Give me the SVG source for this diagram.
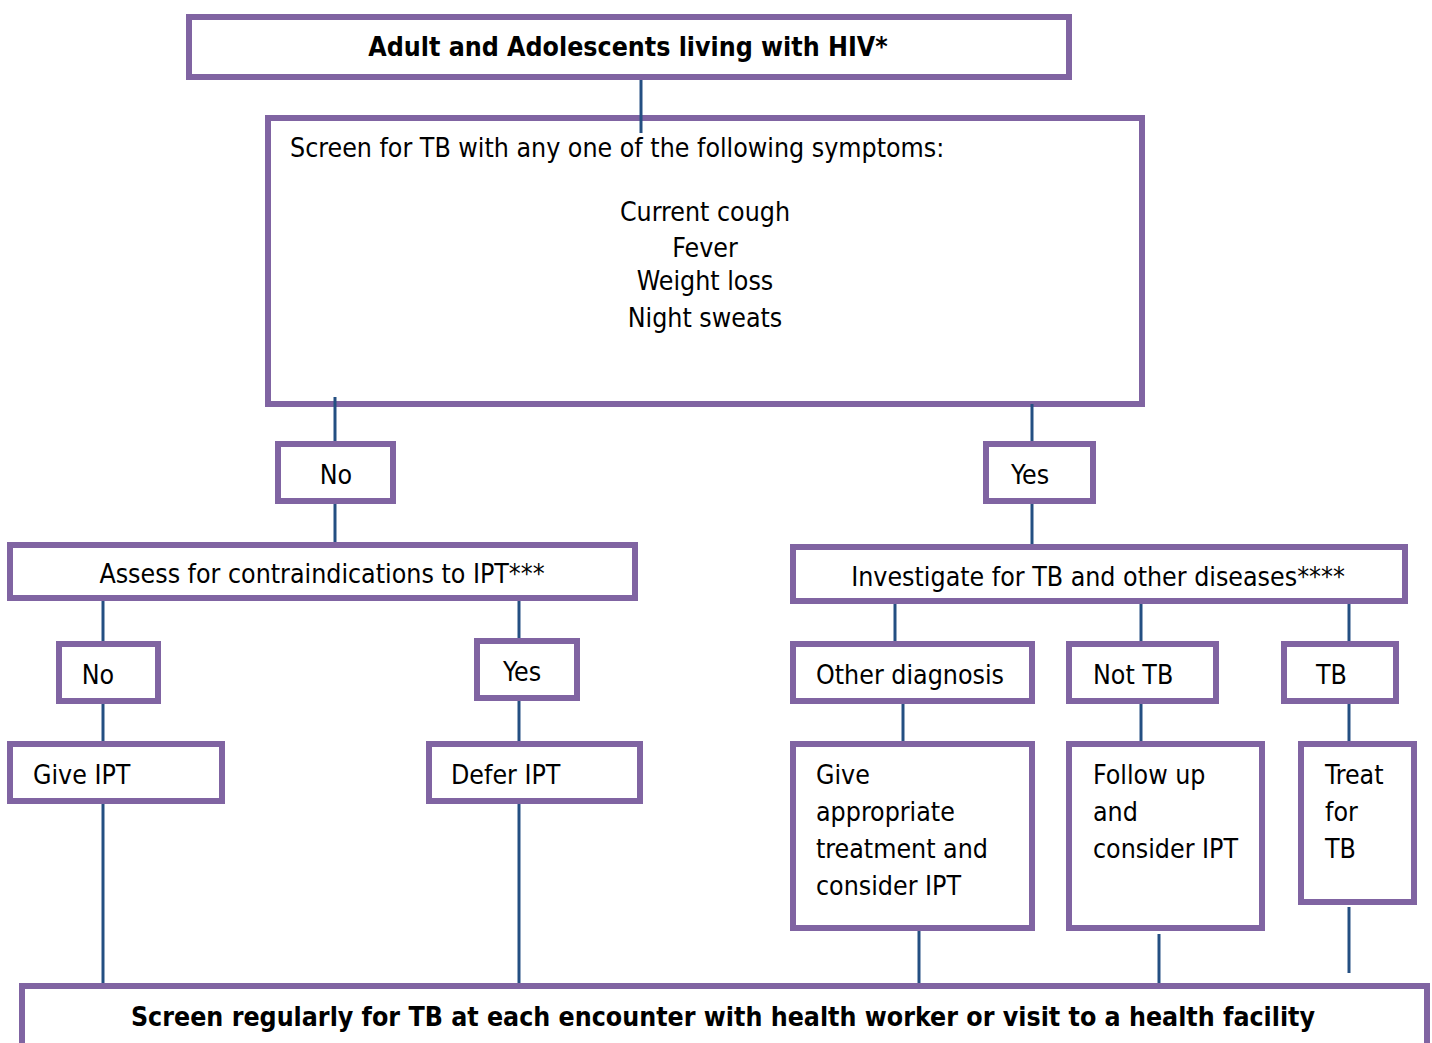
<svg xmlns="http://www.w3.org/2000/svg" width="1432" height="1043" viewBox="0 0 1432 1043">
  <style>
    .box { fill: #ffffff; stroke: #8064a2; stroke-width: 6; }
    .link { stroke: #244f82; stroke-width: 3; fill: none; }
    text { font-family: "DejaVu Sans Condensed", "DejaVu Sans", Verdana, sans-serif; font-stretch: condensed; font-size: 26.5px; fill: #000000; }
    .b { font-weight: bold; }
    .c { text-anchor: middle; }
  </style>
  <rect width="1432" height="1043" fill="#ffffff"/>

  <g id="nodes">
    <g id="n-top">
      <rect class="box" x="189" y="17" width="880" height="60"/>
      <text class="b c" x="628" y="56">Adult and Adolescents living with HIV*</text>
    </g>
    <g id="n-screen">
      <rect class="box" x="268" y="118" width="874" height="286"/>
      <text x="290" y="157">Screen for TB with any one of the following symptoms:</text>
      <text class="c" x="705" y="221">Current cough</text>
      <text class="c" x="705" y="257">Fever</text>
      <text class="c" x="705" y="290">Weight loss</text>
      <text class="c" x="705" y="327">Night sweats</text>
    </g>
    <g id="n-no">
      <rect class="box" x="278" y="444" width="115" height="57"/>
      <text class="c" x="336" y="484">No</text>
    </g>
    <g id="n-yes">
      <rect class="box" x="986" y="444" width="107" height="57"/>
      <text class="c" x="1030" y="484">Yes</text>
    </g>
    <g id="n-assess">
      <rect class="box" x="10" y="545" width="625" height="53"/>
      <text class="c" x="322" y="583">Assess for contraindications to IPT***</text>
    </g>
    <g id="n-investigate">
      <rect class="box" x="793" y="547" width="612" height="54"/>
      <text class="c" x="1098" y="586">Investigate for TB and other diseases****</text>
    </g>
    <g id="n-no2">
      <rect class="box" x="59" y="644" width="99" height="57"/>
      <text class="c" x="98" y="684">No</text>
    </g>
    <g id="n-yes2">
      <rect class="box" x="477" y="641" width="100" height="57"/>
      <text class="c" x="522" y="681">Yes</text>
    </g>
    <g id="n-give-ipt">
      <rect class="box" x="10" y="744" width="212" height="57"/>
      <text x="33" y="784">Give IPT</text>
    </g>
    <g id="n-defer-ipt">
      <rect class="box" x="429" y="744" width="211" height="57"/>
      <text x="451" y="784">Defer IPT</text>
    </g>
    <g id="n-other">
      <rect class="box" x="793" y="644" width="239" height="57"/>
      <text x="816" y="684">Other diagnosis</text>
    </g>
    <g id="n-nottb">
      <rect class="box" x="1069" y="644" width="147" height="57"/>
      <text x="1093" y="684">Not TB</text>
    </g>
    <g id="n-tb">
      <rect class="box" x="1284" y="644" width="112" height="57"/>
      <text x="1316" y="684">TB</text>
    </g>
    <g id="n-give-treatment">
      <rect class="box" x="793" y="744" width="239" height="184"/>
      <text x="816" y="784">Give</text>
      <text x="816" y="821">appropriate</text>
      <text x="816" y="858">treatment and</text>
      <text x="816" y="895">consider IPT</text>
    </g>
    <g id="n-follow">
      <rect class="box" x="1069" y="744" width="193" height="184"/>
      <text x="1093" y="784">Follow up</text>
      <text x="1093" y="821">and</text>
      <text x="1093" y="858">consider IPT</text>
    </g>
    <g id="n-treat">
      <rect class="box" x="1301" y="744" width="113" height="158"/>
      <text x="1325" y="784">Treat</text>
      <text x="1325" y="821">for</text>
      <text x="1325" y="858">TB</text>
    </g>
    <g id="n-bottom">
      <rect class="box" x="22" y="986" width="1405" height="80"/>
      <text class="b c" x="723" y="1026">Screen regularly for TB at each encounter with health worker or visit to a health facility</text>
    </g>
  </g>

  <g id="connectors">
    <line class="link" x1="641" y1="80" x2="641" y2="133"/>
    <line class="link" x1="335" y1="397" x2="335" y2="441"/>
    <line class="link" x1="335" y1="504" x2="335" y2="542"/>
    <line class="link" x1="1032" y1="404" x2="1032" y2="441"/>
    <line class="link" x1="1032" y1="504" x2="1032" y2="544"/>
    <line class="link" x1="103" y1="601" x2="103" y2="641"/>
    <line class="link" x1="103" y1="704" x2="103" y2="741"/>
    <line class="link" x1="103" y1="804" x2="103" y2="983"/>
    <line class="link" x1="519" y1="601" x2="519" y2="638"/>
    <line class="link" x1="519" y1="701" x2="519" y2="741"/>
    <line class="link" x1="519" y1="804" x2="519" y2="983"/>
    <line class="link" x1="895" y1="604" x2="895" y2="641"/>
    <line class="link" x1="903" y1="704" x2="903" y2="741"/>
    <line class="link" x1="919" y1="931" x2="919" y2="983"/>
    <line class="link" x1="1141" y1="604" x2="1141" y2="641"/>
    <line class="link" x1="1141" y1="704" x2="1141" y2="741"/>
    <line class="link" x1="1159" y1="934" x2="1159" y2="983"/>
    <line class="link" x1="1349" y1="604" x2="1349" y2="641"/>
    <line class="link" x1="1349" y1="704" x2="1349" y2="741"/>
    <line class="link" x1="1349" y1="907" x2="1349" y2="973"/>
  </g>
</svg>
